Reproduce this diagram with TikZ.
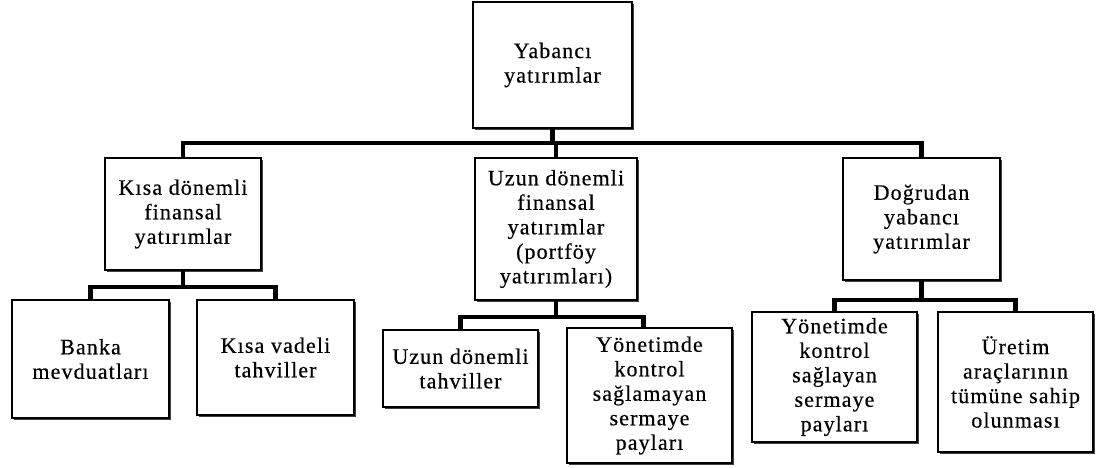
\documentclass[tikz,border=0pt]{standalone}
\usepackage{fontspec}
\setmainfont{Liberation Serif}[LetterSpace=5,FakeBold=0.4]
\usetikzlibrary{shadows}
\begin{document}
\begin{tikzpicture}[x=1pt,y=-1pt,
  box/.style={draw=black, line width=1.2pt, fill=white, align=center, inner sep=2pt,
    font=\fontsize{22}{24.5}\selectfont,
    drop shadow={shadow xshift=1.6pt, shadow yshift=-1.6pt, fill=black!75, opacity=1}},
  conn/.style={line width=4.2pt, line join=miter, draw=black}]
\useasboundingbox (0,0) rectangle (1097,467);
\fill[white] (0,0) rectangle (1097,467);
% level 1
\node[box, minimum width=159pt, minimum height=126pt] (top) at (552.5,65) {Yabancı\\yatırımlar};
% level 2
\node[box, minimum width=156pt, minimum height=112pt] (k) at (183,214) {Kısa dönemli\\finansal\\yatırımlar};
\node[box, minimum width=162pt, minimum height=142pt] (u) at (556,229) {Uzun dönemli\\finansal\\yatırımlar\\(portföy\\yatırımları)};
\node[box, minimum width=157pt, minimum height=122pt] (d) at (921.5,219) {Doğrudan\\yabancı\\yatırımlar};
% level 3
\node[box, minimum width=157pt, minimum height=118pt] (k1) at (90.5,359) {Banka\\mevduatları};
\node[box, minimum width=157pt, minimum height=115pt] (k2) at (275.5,357.5) {Kısa vadeli\\tahviller};
\node[box, minimum width=155pt, minimum height=77pt] (u1) at (460.5,368.5) {Uzun dönemli\\tahviller};
\node[box, minimum width=165pt, minimum height=135pt] (u2) at (649.5,395.5) {Yönetimde\\kontrol\\sağlamayan\\sermaye\\payları};
\node[box, minimum width=165pt, minimum height=130pt] (d1) at (834.5,377) {Yönetimde\\kontrol\\sağlayan\\sermaye\\payları};
\node[box, minimum width=155pt, minimum height=140pt] (d2) at (1015.5,382) {Üretim\\araçlarının\\tümüne sahip\\olunması};
% bus coordinates
\coordinate (b0) at (552.5,143);
\coordinate (kb) at (183,287);
\coordinate (ub) at (556,317);
\coordinate (db) at (921.5,300);
% connectors
\draw[conn] (top.south) -- (b0);
\draw[conn] (k.north) -- (k.north |- b0) -- (d.north |- b0) -- (d.north);
\draw[conn] (u.north) -- (u.north |- b0);
\draw[conn] (k.south) -- (kb);
\draw[conn] (k1.north) -- (k1.north |- kb) -- (k2.north |- kb) -- (k2.north);
\draw[conn] (u.south) -- (ub);
\draw[conn] (u1.north) -- (u1.north |- ub) -- ([xshift=-6pt]u2.north |- ub) -- ([xshift=-6pt]u2.north);
\draw[conn] (d.south) -- (db);
\draw[conn] (d1.north) -- (d1.north |- db) -- (d2.north |- db) -- (d2.north);
\end{tikzpicture}
\end{document}
